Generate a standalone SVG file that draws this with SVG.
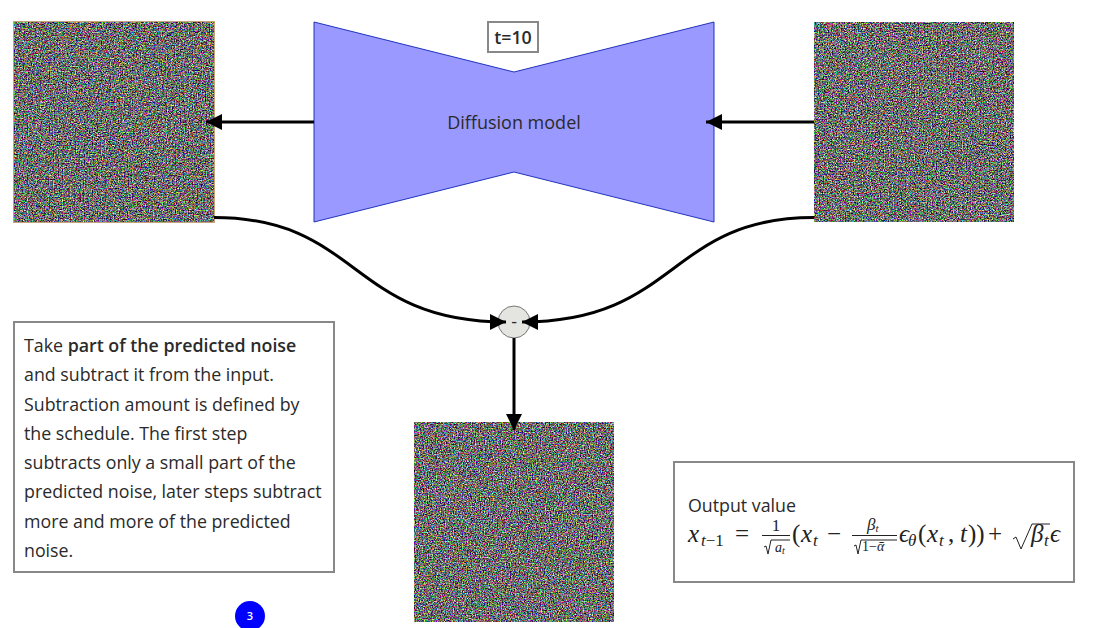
<svg xmlns="http://www.w3.org/2000/svg" width="1093" height="628" viewBox="0 0 1093 628">
<style>
.box{fill:#fff;stroke:#888;stroke-width:2}
.t{font-family:"Open Sans","Noto Sans",sans-serif;font-size:17.8px;fill:#2a2a2a}
.m{font-family:"Liberation Serif",serif;fill:#222;font-style:italic;font-size:25px}
.r{font-style:normal}
.s{font-size:17px}
.xs{font-size:14px}
.c{fill:none;stroke:#000;stroke-width:3}
.ml{fill:none;stroke:#222;stroke-width:1}
</style>
<defs>
<marker id="ah" markerUnits="userSpaceOnUse" markerWidth="17" markerHeight="17" refX="16" refY="8.5" orient="auto"><path d="M0 0.5L16 8.5L0 16.5Z" fill="#000"/></marker>
<filter id="n1" x="0" y="0" width="1" height="1" color-interpolation-filters="sRGB"><feTurbulence type="fractalNoise" baseFrequency="0.77" numOctaves="2" seed="3"/><feColorMatrix type="saturate" values="0.75"/><feComponentTransfer><feFuncR type="linear" slope="2.3" intercept="-0.72"/><feFuncG type="linear" slope="2.3" intercept="-0.72"/><feFuncB type="linear" slope="2.3" intercept="-0.72"/><feFuncA type="linear" slope="0" intercept="1"/></feComponentTransfer></filter>
<filter id="n2" x="0" y="0" width="1" height="1" color-interpolation-filters="sRGB"><feTurbulence type="fractalNoise" baseFrequency="0.77" numOctaves="2" seed="11"/><feColorMatrix type="saturate" values="0.75"/><feComponentTransfer><feFuncR type="linear" slope="2.3" intercept="-0.72"/><feFuncG type="linear" slope="2.3" intercept="-0.72"/><feFuncB type="linear" slope="2.3" intercept="-0.72"/><feFuncA type="linear" slope="0" intercept="1"/></feComponentTransfer></filter>
<filter id="n3" x="0" y="0" width="1" height="1" color-interpolation-filters="sRGB"><feTurbulence type="fractalNoise" baseFrequency="0.77" numOctaves="2" seed="27"/><feColorMatrix type="saturate" values="0.75"/><feComponentTransfer><feFuncR type="linear" slope="2.3" intercept="-0.72"/><feFuncG type="linear" slope="2.3" intercept="-0.72"/><feFuncB type="linear" slope="2.3" intercept="-0.72"/><feFuncA type="linear" slope="0" intercept="1"/></feComponentTransfer></filter>
</defs>
<g id="output-image"><rect x="14" y="22" width="200" height="200" filter="url(#n1)"/><rect x="13.500" y="21.500" width="201" height="201" fill="none" stroke="#c4a27a"/></g>
<g id="input-image"><rect x="814" y="22" width="200" height="200" filter="url(#n2)"/></g>
<g id="result-image"><rect x="414" y="422" width="200" height="200" filter="url(#n3)"/></g>
<g id="model"><path d="M314 22L514 72L714 22V222L514 172L314 222Z" fill="#9999ff" stroke="#2233bb"/><text class="t" x="514" y="129" text-anchor="middle" font-size="18" style="font-size:18px">Diffusion model</text></g>
<g id="timestep"><rect class="box" x="488" y="22" width="50" height="30"/><text class="t" x="513" y="44" text-anchor="middle" font-weight="600">t=10</text></g>
<g id="subtract"><circle cx="514" cy="322" r="16" fill="#e4e4e0" stroke="#777"/><text class="t" x="514" y="328" text-anchor="middle">-</text></g>
<g id="connectors">
<path class="c" d="M314 122H206" marker-end="url(#ah)"/>
<path class="c" d="M814 122H706" marker-end="url(#ah)"/>
<path class="c" d="M214 217.500C360 217.500 350 322 506 322" marker-end="url(#ah)"/>
<path class="c" d="M814 217.500C668 217.500 678 322 522 322" marker-end="url(#ah)"/>
<path class="c" d="M514 338V430" marker-end="url(#ah)"/>
</g>
<g id="explanation"><rect class="box" x="14" y="322" width="320" height="250"/>
<text class="t" x="24" y="352">Take <tspan font-weight="600">part of the predicted noise</tspan></text>
<text class="t" x="24" y="381">and subtract it from the input.</text>
<text class="t" x="24" y="411">Subtraction amount is defined by</text>
<text class="t" x="24" y="440">the schedule. The first step</text>
<text class="t" x="24" y="469">subtracts only a small part of the</text>
<text class="t" x="24" y="498">predicted noise, later steps subtract</text>
<text class="t" x="24" y="528">more and more of the predicted</text>
<text class="t" x="24" y="557">noise.</text>
</g>
<g id="formula"><rect class="box" x="674" y="462" width="400" height="120"/>
<text class="t" x="688" y="512">Output value</text>
<text class="m" x="688" y="542">x</text><text class="m s" x="701" y="546">t<tspan class="r">−1</tspan></text>
<text class="m r" x="735" y="542">=</text>
<text class="m r s" x="776" y="531" text-anchor="middle">1</text>
<path class="ml" d="M762 535.500H790"/>
<path class="ml" d="M764 547L766 546L768 554L771 540H790"/>
<text class="m xs" x="775" y="552">a<tspan dy="2" font-size="10" style="font-size:10px">t</tspan></text>
<text class="m r" x="792" y="542">(</text>
<text class="m" x="801" y="542">x</text><text class="m s" x="813" y="546">t</text>
<text class="m r" x="827" y="542">−</text>
<text class="m s" x="867" y="530">β<tspan dy="2" style="font-size:11px">t</tspan></text>
<path class="ml" d="M852 535.500H897"/>
<path class="ml" d="M854 546L856 545L858 554L861 540H897"/>
<text class="m r xs" x="862" y="551">1−<tspan font-style="italic" style="font-style:italic">ᾱ</tspan></text>
<text class="m" x="899" y="542">ϵ</text><text class="m s" x="908" y="546">θ</text>
<text class="m r" x="918" y="542">(</text>
<text class="m" x="927" y="542">x</text><text class="m s" x="939" y="546">t</text>
<text class="m r" x="948" y="542">,</text>
<text class="m" x="960" y="542">t</text>
<text class="m r" x="968" y="542">))</text>
<text class="m r" x="988" y="542">+</text>
<path class="ml" d="M1013 539L1016 537L1021 549L1032 524H1050"/>
<text class="m" x="1031" y="542">β</text><text class="m s" x="1044" y="546">t</text>
<text class="m" x="1050" y="542">ϵ</text>
</g>
<g id="badge"><circle cx="250" cy="616" r="15" fill="#0000ff"/><text x="250" y="620" text-anchor="middle" font-family="'Open Sans',sans-serif" font-size="11" font-weight="600" fill="#fff">3</text></g>
</svg>
